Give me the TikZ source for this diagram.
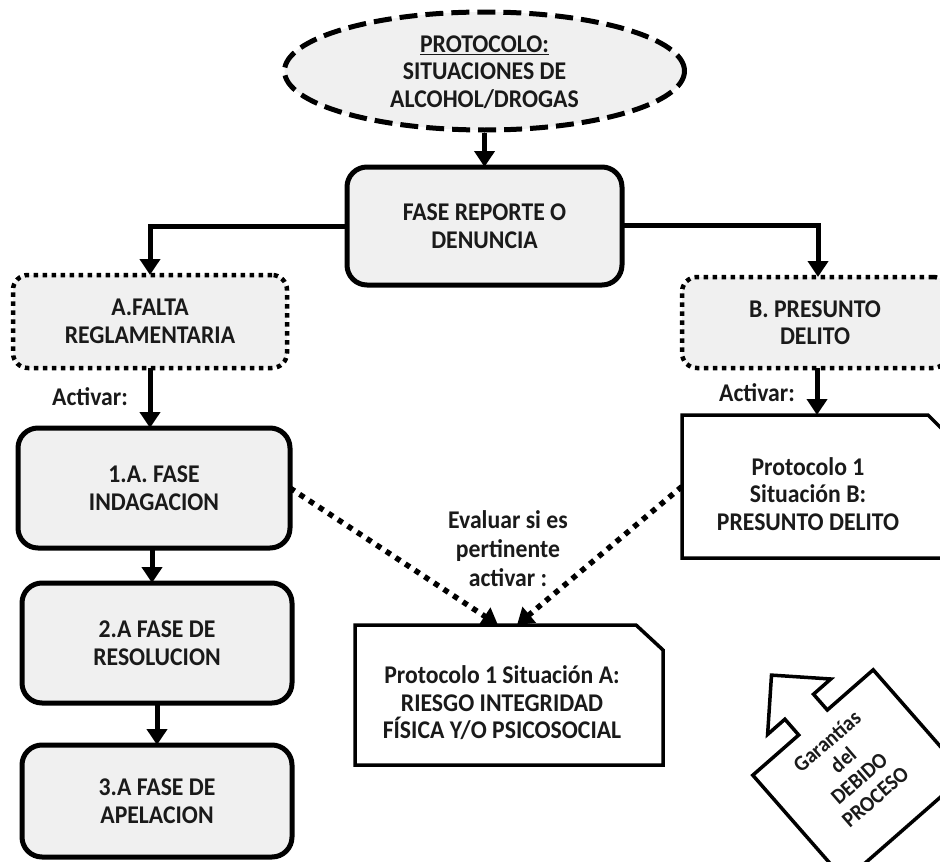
\documentclass[tikz,border=0pt]{standalone}
\usepackage{fontspec}
\setmainfont{Carlito}[FakeStretch=0.93]
\usetikzlibrary{arrows.meta,shapes.geometric,calc}
\definecolor{boxgray}{HTML}{F0F0F0}
\definecolor{ink}{HTML}{1A1A1A}
\begin{document}
\begin{tikzpicture}[x=1pt,y=-1pt,
  lbl/.style={font=\fontsize{25.5}{27.5}\selectfont\bfseries, align=center, text=ink, inner sep=0pt},
  solidbox/.style={lbl, draw=black, line width=5pt, fill=boxgray, rounded corners=20pt, minimum width=#1, outer sep=0pt},
  dotbox/.style={lbl, draw=black, line width=4.5pt, dash pattern=on 4.5pt off 4.5pt, fill=boxgray, rounded corners=15pt, minimum width=#1, outer sep=0pt},
  docbox/.style={inner sep=0pt, outer sep=0pt},
  conn/.style={line width=5pt, -{Triangle[width=20pt,length=16pt]}},
  dotconn/.style={line width=5.5pt, dash pattern=on 5.5pt off 6pt, -{Triangle[width=20pt,length=16pt]}},
]
\useasboundingbox (0,0) rectangle (940,862);

% top ellipse
\node[ellipse, draw=black, line width=5pt, dash pattern=on 18pt off 8pt, fill=boxgray,
      minimum width=400pt, minimum height=118pt, inner sep=0pt] (ell) at (484.5,71) {};
\node[lbl] (elltxt) at (484.5,72) {\underline{PROTOCOLO:}\\SITUACIONES DE\\ALCOHOL/DROGAS};

% report box
\node[solidbox=275pt, minimum height=118pt] (rep) at (484.5,226) {FASE REPORTE O\\DENUNCIA};

% branch boxes
\node[dotbox=274pt, minimum height=93pt] (fa) at (150,321.5) {A.FALTA\\REGLAMENTARIA};
\node[dotbox=266pt, minimum height=91pt] (pb) at (815,322.5) {B. PRESUNTO\\DELITO};

% left phase boxes
\node[solidbox=272pt, minimum height=120pt] (f1) at (154,488) {1.A. FASE\\INDAGACION};
\node[solidbox=270pt, minimum height=120pt] (f2) at (157,643) {2.A FASE DE\\RESOLUCION};
\node[solidbox=270pt, minimum height=112pt] (f3) at (157,801) {3.A FASE DE\\APELACION};

% document boxes
\node[docbox, minimum width=271pt, minimum height=143pt] (docB) at (817.5,486.5) {};
\draw[line width=3.5pt, fill=white, line join=miter]
  (docB.north west) -- ([xshift=-25pt]docB.north east) -- ([yshift=-25pt]docB.north east)
  -- (docB.south east) -- (docB.south west) -- cycle;
\node[lbl] (docBtxt) at (808,494) {Protocolo 1\\Situación B:\\PRESUNTO DELITO};

\node[docbox, minimum width=308pt, minimum height=140pt] (docA) at (509,695) {};
\draw[line width=3.5pt, fill=white, line join=miter]
  (docA.north west) -- ([xshift=-27pt]docA.north east) -- ([yshift=-25pt]docA.north east)
  -- (docA.south east) -- (docA.south west) -- cycle;
\node[lbl] (docAtxt) at (502,703) {Protocolo 1 Situación A:\\RIESGO INTEGRIDAD\\FÍSICA Y/O PSICOSOCIAL};

% labels
\node[lbl] (act1) at (90,397) {Activar:};
\node[lbl] (act2) at (757,393) {Activar:};
\node[lbl, font=\fontsize{25.5}{29}\selectfont\bfseries] (eval) at (508,549) {Evaluar si es\\pertinente\\activar :};

% connectors
\draw[conn] (ell.south) -- (rep.north);
\draw[conn] (rep.west) -| (fa.north);
\draw[conn] ([yshift=1pt]rep.east) -| ([xshift=3pt]pb.north);
\draw[conn] (fa.south) -- (fa.south |- f1.north);
\draw[conn] ([xshift=-2pt]f1.south) -- ([xshift=-2pt]f1.south |- f2.north);
\draw[conn] (f2.south) -- (f2.south |- f3.north);
\draw[conn] ([xshift=2pt]pb.south) -- ([xshift=2pt]pb.south |- docB.north);
\draw[dotconn] (f1.east) -- ([xshift=-11pt]docA.north);
\draw[dotconn] (docB.west) -- ([xshift=8pt]docA.north);

% Garantias arrow shape
\draw[line width=3.5pt, fill=white, line join=miter]
  (752.8,775.2) -- (798.7,735.0) -- (784.9,719.2) -- (767.6,734.4) -- (771.5,675.1)
  -- (830.8,679.0) -- (813.5,694.2) -- (827.3,710.0) -- (873.2,669.8)
  -- (965.5,775.2) -- (845.1,880.6) -- cycle;
\node[lbl, font=\fontsize{22}{24.5}\selectfont\bfseries, rotate=41] (gar) at (851,769) {Garantías\\del\\DEBIDO\\PROCESO};
\end{tikzpicture}
\end{document}
